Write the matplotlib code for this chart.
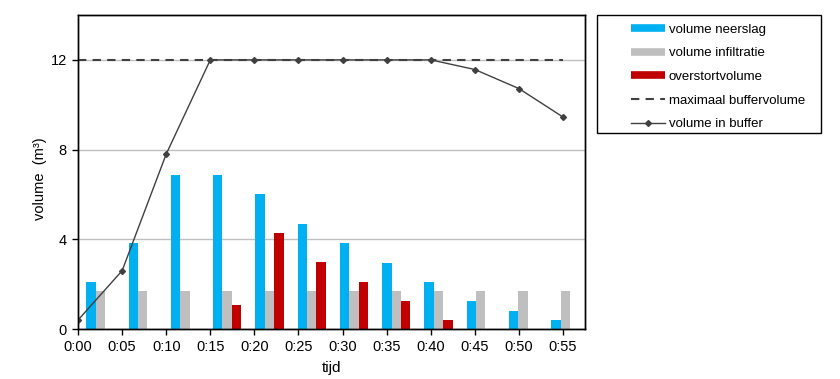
import matplotlib
matplotlib.use('Agg')
import matplotlib.pyplot as plt
import numpy as np
from matplotlib.lines import Line2D
from matplotlib.patches import Rectangle

plt.rcParams['font.family'] = ['Liberation Sans', 'DejaVu Sans']
plt.rcParams['font.size'] = 10

tijd = ['0:00', '0:05', '0:10', '0:15', '0:20', '0:25', '0:30', '0:35', '0:40', '0:45', '0:50', '0:55']
neerslag = [2.1, 3.85, 6.85, 6.85, 6.0, 4.7, 3.85, 2.95, 2.1, 1.25, 0.8, 0.4]
infiltratie = [1.7, 1.7, 1.7, 1.7, 1.7, 1.7, 1.7, 1.7, 1.7, 1.7, 1.7, 1.7]
overstort = [0, 0, 0, 1.05, 4.3, 3.0, 2.1, 1.25, 0.4, 0, 0, 0]
max_buffer = [12, 12, 12, 12, 12, 12, 12, 12, 12, 12, 12, 12]
buffer = [0.4, 2.6, 7.8, 12, 12, 12, 12, 12, 12, 11.57, 10.72, 9.45]

c_blue = '#00B0F0'
c_gray = '#BFBFBF'
c_red = '#C00000'
c_line = '#404040'

fig = plt.figure(figsize=(8.4, 3.79), dpi=100)
ax = fig.add_axes([0.0929, 0.1319, 0.6036, 0.8285])
n = len(tijd)
idx = np.arange(n)
w = 0.222
ctr = idx + 0.53
ax.bar(ctr - w, neerslag, w, color=c_blue, zorder=2)
ax.bar(ctr, infiltratie, w, color=c_gray, zorder=2)
ax.bar(ctr + w, overstort, w, color=c_red, zorder=2)
ax.set_xlim(0, n)
ax.set_ylim(0, 14)
ax.set_yticks([0, 4, 8, 12])
ax.yaxis.grid(True, color='#BFBFBF', lw=1)
ax.set_axisbelow(True)
ax.set_xticks([])
ax.set_ylabel('volume  (m³)', fontsize=10.5, labelpad=3)
ax.yaxis.label.set_y(0.479)
ax.tick_params(axis='y', length=4, width=1, labelsize=10.5, pad=4)
for s in ax.spines.values():
    s.set_color('black')
    s.set_linewidth(1)

ax2 = ax.twiny()
ax2.set_xlim(0, n - 0.5)
ax2.plot(idx, max_buffer, ls=(0, (4, 3)), color=c_line, lw=1.5)
ax2.plot(idx, buffer, color=c_line, lw=1, marker='D', ms=3)
ax2.xaxis.set_ticks_position('bottom')
ax2.xaxis.set_label_position('bottom')
ax2.set_xticks(idx)
ax2.set_xticklabels(tijd)
ax2.tick_params(axis='x', length=4, width=1, labelsize=10.5, pad=4)
ax2.set_xlabel('tijd', fontsize=11, labelpad=5)
for s in ax2.spines.values():
    s.set_color('black')
    s.set_linewidth(1)

handles = [
    Line2D([], [], color=c_blue, lw=5.5, solid_capstyle='butt'),
    Line2D([], [], color=c_gray, lw=5.5, solid_capstyle='butt'),
    Line2D([], [], color=c_red, lw=5.5, solid_capstyle='butt'),
    Line2D([], [], color=c_line, lw=1.5, ls=(0, (4, 3))),
    Line2D([], [], color=c_line, lw=1, marker='D', ms=3),
]
labels = ['volume neerslag', 'volume infiltratie', 'overstortvolume',
          'maximaal buffervolume', 'volume in buffer']
fig.legend(handles, labels, loc='upper left', bbox_to_anchor=(0.7438, 0.955),
           frameon=False, handlelength=2.55, handletextpad=0.3,
           labelspacing=0.86, borderpad=0, fontsize=9.5)
fig.patches.append(Rectangle((597 / 840, 1 - 133 / 379), (821 - 597) / 840, (133 - 15) / 379,
                             transform=fig.transFigure, fill=False, edgecolor='black', lw=1))

fig.savefig('out.png', dpi=100)
